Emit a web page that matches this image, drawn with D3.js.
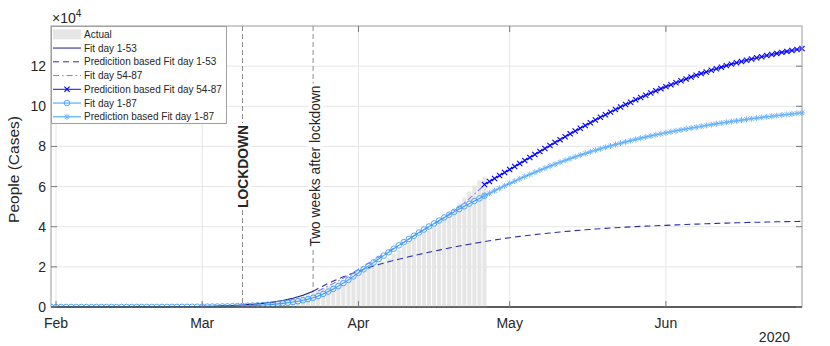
<!DOCTYPE html>
<html><head><meta charset="utf-8">
<script src="https://cdn.jsdelivr.net/npm/d3@7"></script>
<style>
body{margin:0;background:#fff}
svg{display:block}
text{font-family:"Liberation Sans",Arial,Helvetica,sans-serif;fill:#262626}
</style></head>
<body><div id="chart"></div>
<script>
// ---------------- data ----------------
const startDate = "2020-01-31";   // day 1
const endDate = "2020-06-28";     // day 150 (right edge of axis)
const monthTicks = ["2020-02-01","2020-03-01","2020-04-01","2020-05-01","2020-06-01"];
const monthLabels = ["Feb","Mar","Apr","May","Jun"];
const yearLabel = "2020";
const yTicks = [0,20000,40000,60000,80000,100000,120000];
const yTickLabels = ["0","2","4","6","8","10","12"];
const eventDates = ["2020-03-09","2020-03-23"];
const eventLabels = ["LOCKDOWN","Two weeks after lockdown"];
const legendLabels = ["Actual","Fit day 1-53","Predicition based Fit day 1-53","Fit day 54-87",
  "Predicition based Fit day 54-87","Fit day 1-87","Prediction based Fit day 1-87"];

// Actual (days 1-87)
const actual = [0,0,0,0,0,0,0,0,0,0,0,0,0,0,0,0,0,0,0,0,0,0,0,0,
  1,1,3,45,46,50,83,149,160,276,414,523,589,622,724,724,
  1045,1045,1439,1966,2335,2749,2941,4025,4440,5129,
  6072,7024,7432,8326,9362,10361,10950,12384,13030,14620,
  15729,16847,18278,19758,20996,21815,22837,24392,26491,28470,
  30455,32534,34211,35435,37130,38092,40164,42727,44927,47055,
  48877,51600,54543,57576,60498,63120,64928];

// Fit day 1-53 (days 1-53)
const fit1_53 = [3,4,5,6,7,8,9,10,12,14,16,18,21,25,29,33,39,45,52,60,
  70,81,94,109,126,146,170,197,228,265,305,355,410,475,550,640,740,860,1000,1160,
  1345,1560,1810,2100,2435,2825,3275,3800,4400,5100,5900,6850,7900];
const fit1_53Start = 1;

// Prediction based on fit day 1-53 (days 53-150)
const pred1_53 = [7900,9240,10520,11740,12900,14000,15040,16010,16920,17770,
  18830,19640,20410,21140,21850,22530,23190,23820,24430,25030,
  25620,26190,26750,27300,27830,28350,28860,29370,29870,30350,
  30820,31280,31730,32170,32600,33010,33410,33790,34160,34520,
  34850,35170,35480,35780,36070,36340,36610,36870,37120,37360,
  37590,37820,38040,38240,38450,38640,38830,39000,39170,39330,
  39490,39630,39780,39910,40040,40160,40280,40390,40500,40600,
  40690,40805,40910,41015,41120,41215,41310,41405,41490,41575,
  41660,41735,41810,41885,41955,42020,42090,42155,42220,42275,
  42330,42385,42440,42495,42540,42585,42630,42675];
const pred1_53Start = 53;

// Fit day 54-87 (days 54-87)
const fit54_87 = [8000,9200,10400,11700,13000,14400,15800,17300,18800,20300,
  21800,23300,24800,26300,27800,29300,30800,32300,33800,35300,
  36800,38300,39800,41300,42900,44500,46200,48000,49900,51900,
  54000,56200,58500,61000];
const fit54_87Start = 54;

// Prediction based on fit day 54-87 (days 87-150)
const pred54_87 = [61030,62500,63990,65480,66990,68490,70000,71500,72990,74510,
  76000,77480,78970,80460,81920,83380,84800,86260,87660,89060,
  90440,91800,93150,94530,95820,97090,98380,99640,100860,102040,
  103240,104400,105500,106630,107690,108780,109800,110760,111730,112720,
  113640,114540,115420,116280,117120,117930,118730,119500,120260,121000,
  121700,122330,122950,123560,124150,124720,125280,125820,126350,126860,
  127350,127830,128300,128750];
const pred54_87Start = 87;

// Fit day 1-87 (days 1-87)
const fit1_87 = [1,1,2,2,2,3,3,4,5,5,6,8,9,10,12,14,16,19,22,26,
  31,36,42,49,57,67,78,92,107,125,147,171,200,234,274,321,375,439,513,600,
  702,821,960,1123,1314,1536,1797,2102,2458,2875,3363,3933,4600,5500,6500,7700,9000,10400,11900,13500,
  15250,17050,18800,20500,22200,23900,25600,27300,29000,30700,
  32300,33900,35500,37100,38600,40100,41600,43100,44600,46000,
  47400,48800,50200,51500,52800,54100,55400];
const fit1_87Start = 1;

// Prediction based on fit day 1-87 (days 87-150)
const pred1_87 = [55400,56680,57930,59160,60370,61550,62710,63850,64960,66050,
  67120,68170,69190,70190,71170,72120,73040,73940,74820,75670,
  76490,77290,78070,78820,79550,80260,80950,81620,82270,82900,
  83510,84100,84680,85240,85780,86300,86800,87290,87770,88240,
  88700,89150,89590,90020,90440,90850,91250,91640,92020,92390,
  92750,93100,93450,93790,94120,94440,94750,95050,95350,95640,
  95920,96200,96470,96730];
const pred1_87Start = 87;

// ---------------- layout ----------------
const W = 830, H = 346;
const L = 51, R = 802, T = 26, B = 307;
const parse = s => new Date(s + "T00:00:00Z");
const day0 = parse(startDate);
const dayDate = d => d3.utcDay.offset(day0, d - 1);

const x = d3.scaleUtc().domain([parse(startDate), parse(endDate)]).range([L, R]);
const y = d3.scaleLinear().domain([0, 140000]).range([B, T]);

const svg = d3.select("#chart").append("svg").attr("width", W).attr("height", H);

svg.append("clipPath").attr("id","clip").append("rect")
  .attr("x", L).attr("y", T-4).attr("width", R-L+4).attr("height", B-T+4);

// grid
const grid = svg.append("g");
grid.selectAll(".gx").data(monthTicks).join("line")
  .attr("x1", d=>x(parse(d))).attr("x2", d=>x(parse(d)))
  .attr("y1", T).attr("y2", B).attr("stroke","#e6e6e6").attr("stroke-width",1);
grid.selectAll(".gy").data(yTicks).join("line")
  .attr("x1", L).attr("x2", R)
  .attr("y1", d=>y(d)).attr("y2", d=>y(d)).attr("stroke","#e6e6e6").attr("stroke-width",1);

// event lines
svg.append("g").selectAll("line").data(eventDates).join("line")
  .attr("x1", d=>x(parse(d))).attr("x2", d=>x(parse(d)))
  .attr("y1", T).attr("y2", B)
  .attr("stroke","#8c8c8c").attr("stroke-width",1).attr("stroke-dasharray","5,3");

// baseline
svg.append("line").attr("x1", L).attr("x2", R).attr("y1", y(0)).attr("y2", y(0))
  .attr("stroke","#262626").attr("stroke-width",1);

// bars
const step = x(dayDate(2)) - x(dayDate(1));
const bw = step * 0.8;
svg.append("g")
  .selectAll("rect").data(actual.map((v,i)=>({d:i+1,v})).filter(o=>o.v>0)).join("rect")
  .attr("x", o=>x(dayDate(o.d)) - bw/2).attr("width", bw)
  .attr("y", o=>y(o.v)).attr("height", o=>y(0)-y(o.v)+0.5)
  .attr("fill","#e6e6e6");

// series
const toPts = (arr, start) => arr.map((v,i)=>({date: dayDate(start+i), v}));
const line = d3.line().x(p=>x(p.date)).y(p=>y(p.v));
const plot = svg.append("g").attr("clip-path","url(#clip)");

const S = {
  fit153:  {pts: toPts(fit1_53, fit1_53Start), color:"#1a1a96", dash:null},
  pred153: {pts: toPts(pred1_53, pred1_53Start), color:"#2e2eaa", dash:"6,4"},
  fit5487: {pts: toPts(fit54_87, fit54_87Start), color:"#7b7bff", dash:"6,3,1.5,3"},
  pred5487:{pts: toPts(pred54_87, pred54_87Start), color:"#1010ff", dash:null, marker:"x", mcolor:"#0000ff"},
  fit187:  {pts: toPts(fit1_87, fit1_87Start), color:"#3d9cff", dash:null, marker:"o", mcolor:"#3d9cff"},
  pred187: {pts: toPts(pred1_87, pred1_87Start), color:"#3d9cff", dash:null, marker:"*", mcolor:"#6db6ff"}
};
const order = ["fit153","pred153","fit5487","pred5487","fit187","pred187"];

function drawMarker(g, type, color, cx, cy){
  if(type==="o"){
    g.append("circle").attr("cx",cx).attr("cy",cy).attr("r",2.8)
      .attr("fill","none").attr("stroke",color).attr("stroke-width",0.9);
  } else if(type==="x"){
    const s=2.6;
    g.append("path").attr("d",`M${cx-s},${cy-s}L${cx+s},${cy+s}M${cx-s},${cy+s}L${cx+s},${cy-s}`)
      .attr("stroke",color).attr("stroke-width",1.1).attr("fill","none");
  } else if(type==="*"){
    const s=3.0, t=2.2;
    g.append("path").attr("d",`M${cx-s},${cy}L${cx+s},${cy}M${cx},${cy-s}L${cx},${cy+s}M${cx-t},${cy-t}L${cx+t},${cy+t}M${cx-t},${cy+t}L${cx+t},${cy-t}`)
      .attr("stroke",color).attr("stroke-width",1).attr("fill","none");
  }
}

order.forEach(k=>{
  const s = S[k];
  const g = plot.append("g");
  g.append("path").datum(s.pts).attr("d", line).attr("fill","none")
    .attr("stroke", s.color).attr("stroke-width", 1.1)
    .attr("stroke-dasharray", s.dash);
  if(s.marker){
    s.pts.forEach(p=>drawMarker(g, s.marker, s.mcolor, x(p.date), y(p.v)));
  }
});

// frame
svg.append("rect").attr("x",L).attr("y",T).attr("width",R-L).attr("height",B-T)
  .attr("fill","none").attr("stroke","#9a9a9a").attr("stroke-width",1);
svg.append("line").attr("x1", L).attr("x2", R).attr("y1", B).attr("y2", B)
  .attr("stroke","#262626").attr("stroke-width",1);

// ticks
const tl = 6;
const tk = svg.append("g").attr("stroke","#7a7a7a").attr("stroke-width",1);
monthTicks.forEach(m=>{
  const xx = x(parse(m));
  tk.append("line").attr("x1",xx).attr("x2",xx).attr("y1",B).attr("y2",B-tl);
  tk.append("line").attr("x1",xx).attr("x2",xx).attr("y1",T).attr("y2",T+tl);
});
yTicks.forEach(v=>{
  const yy = y(v);
  tk.append("line").attr("x1",L).attr("x2",L+tl).attr("y1",yy).attr("y2",yy);
  tk.append("line").attr("x1",R).attr("x2",R-tl).attr("y1",yy).attr("y2",yy);
});

// tick labels
svg.append("g").selectAll("text").data(monthTicks).join("text")
  .attr("x", d=>x(parse(d))).attr("y", B+21)
  .attr("text-anchor","middle").attr("font-size",14)
  .text((d,i)=>monthLabels[i]);
svg.append("text").attr("x", x(parse(endDate)) - 12).attr("y", 342)
  .attr("text-anchor","end").attr("font-size",14).text(yearLabel);
svg.append("g").selectAll("text").data(yTicks).join("text")
  .attr("x", L-5).attr("y", d=>y(d)).attr("dy","0.36em")
  .attr("text-anchor","end").attr("font-size",14)
  .text((d,i)=>yTickLabels[i]);

// exponent
const ex = svg.append("text").attr("x", L+1).attr("y", 23).attr("font-size",14);
ex.append("tspan").text("\u00d710");
ex.append("tspan").attr("dy",-6).attr("font-size",10).text("4");

// y label
svg.append("text").attr("transform",`translate(19,${(T+B)/2+3}) rotate(-90)`)
  .attr("text-anchor","middle").attr("font-size",15.5).text("People (Cases)");

// event labels
const evCenters = [166.5, 166];
const evDx = [1, 2.2];
eventDates.forEach((d,i)=>{
  const g = svg.append("g").attr("transform",`translate(${x(parse(d))+evDx[i]},${evCenters[i]}) rotate(-90)`);
  const t = g.append("text").attr("text-anchor","middle").attr("dy","0.36em")
    .attr("font-size",13.8).attr("font-weight", i===0 ? "bold" : "normal").text(eventLabels[i]);
  const bb = t.node().getBBox();
  g.insert("rect","text").attr("x",bb.x-2).attr("y",bb.y).attr("width",bb.width+4).attr("height",bb.height)
    .attr("fill","#fff");
});

// legend
const lg = svg.append("g");
const lgX = L, lgY = T, lgW = 175, lgH = 97;
lg.append("rect").attr("x",lgX+0.5).attr("y",lgY+0.5).attr("width",lgW).attr("height",lgH)
  .attr("fill","#fff").attr("stroke","#a0a0a0").attr("stroke-width",1);
const rowH = 13.75, row0 = lgY + 8.3;
const sx1 = lgX + 2, sx2 = lgX + 30, tx = lgX + 33;
legendLabels.forEach((lab,i)=>{
  const yy = row0 + i*rowH;
  if(i===0){
    lg.append("rect").attr("x",sx1).attr("y",yy-5).attr("width",sx2-sx1).attr("height",10).attr("fill","#e6e6e6");
  } else {
    const s = S[order[i-1]];
    lg.append("line").attr("x1",sx1).attr("x2",sx2).attr("y1",yy).attr("y2",yy)
      .attr("stroke",s.color).attr("stroke-width",1).attr("stroke-dasharray",s.dash);
    if(s.marker) drawMarker(lg, s.marker, s.mcolor, (sx1+sx2)/2, yy);
  }
  lg.append("text").attr("x",tx).attr("y",yy).attr("dy","0.36em").attr("font-size",10).text(lab);
});
</script>
</body></html>
